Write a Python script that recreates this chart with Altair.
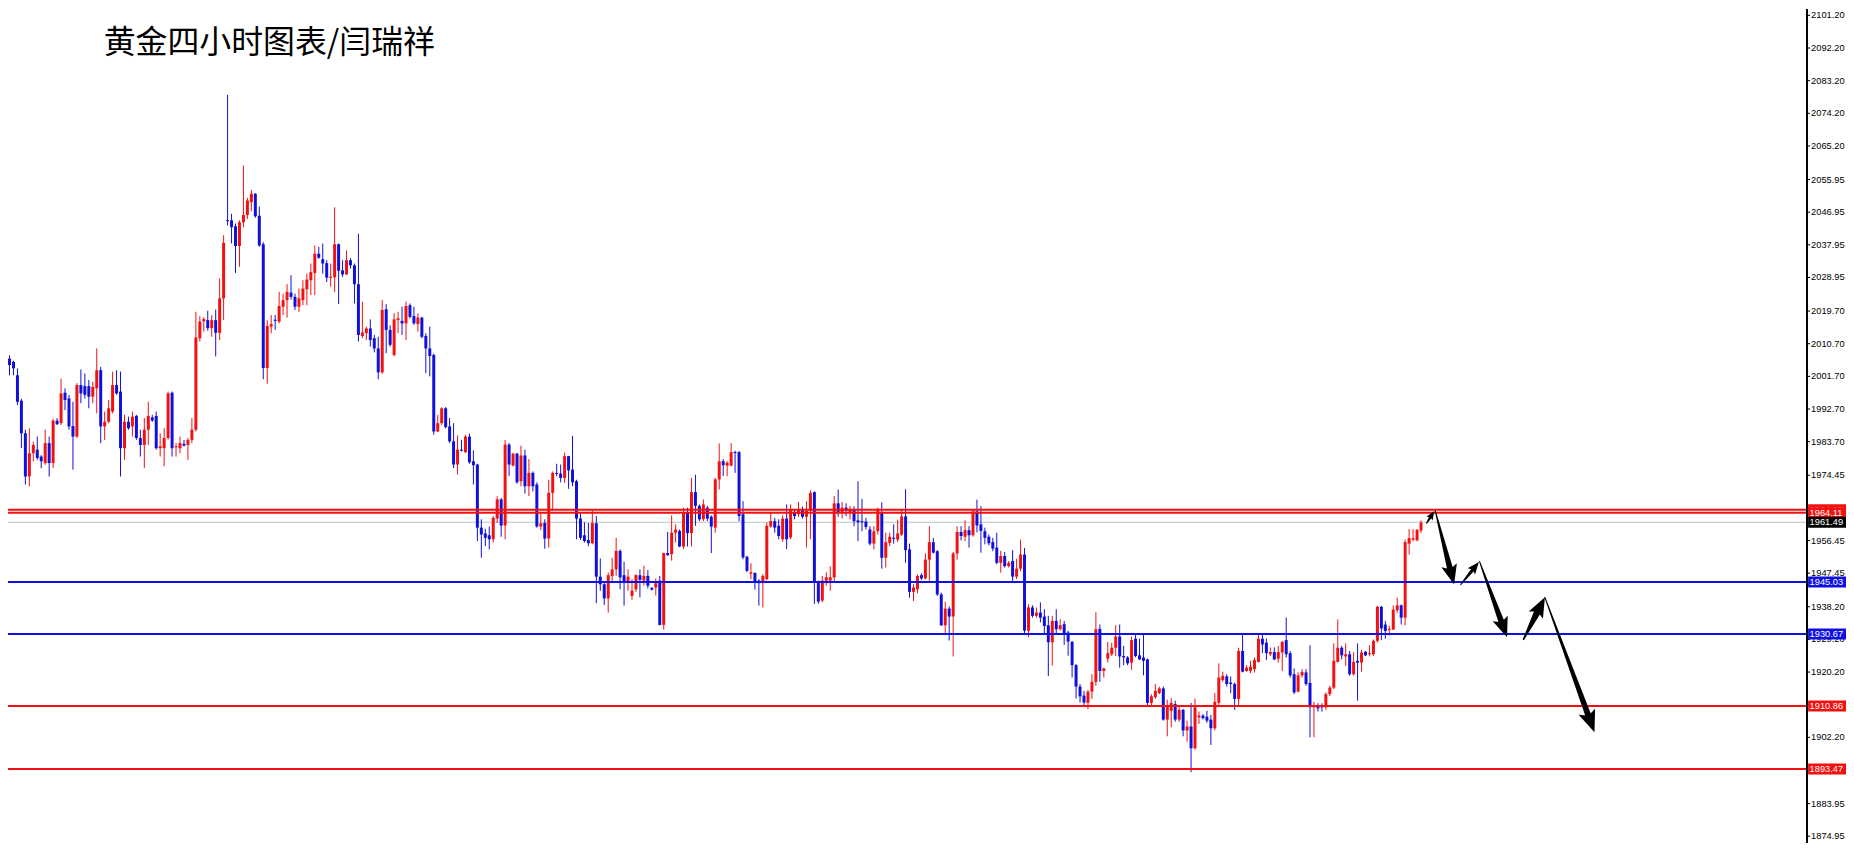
import math
import altair as alt
import pandas as pd

TITLE = "黄金四小时图表/闫瑞祥"

OPEN = [
    2005.3, 2006.6, 2005.7, 2002.0, 1995.0, 1986.0, 1974.1, 1980.5, 1981.5, 1979.6,
    1977.8, 1983.3, 1977.8, 1989.5, 1988.8, 1997.2, 1995.6, 1988.0, 1985.1, 1999.3,
    1999.0, 1999.0, 1996.1, 1998.4, 2003.4, 1987.9, 1989.2, 1992.0, 1999.3, 1997.5,
    1981.9, 1989.2, 1987.9, 1990.8, 1984.7, 1982.8, 1987.0, 1990.4, 1990.8, 1981.9,
    1981.9, 1984.7, 1997.2, 1982.2, 1981.9, 1983.1, 1982.8, 1984.2, 1987.0, 2012.2,
    2016.9, 2017.2, 2015.0, 2017.2, 2013.7, 2023.2, 2044.7, 2044.7, 2043.1, 2037.6,
    2044.2, 2046.2, 2049.7, 2052.0, 2046.0, 2038.1, 2004.0, 2015.4, 2017.3, 2016.8,
    2020.9, 2022.7, 2024.8, 2023.6, 2020.9, 2022.7, 2025.7, 2028.2, 2030.2, 2035.5,
    2034.0, 2032.9, 2028.9, 2029.0, 2038.1, 2030.9, 2029.8, 2033.7, 2032.3, 2027.1,
    2012.8, 2013.6, 2014.9, 2012.2, 2009.4, 2002.8, 2020.2, 2014.5, 2007.6, 2017.2,
    2017.0, 2016.3, 2021.3, 2018.3, 2016.1, 2017.9, 2012.8, 2009.4, 2007.6, 1986.5,
    1988.8, 1992.9, 1987.9, 1983.8, 1977.4, 1981.5, 1980.8, 1985.1, 1978.3, 1977.4,
    1960.0, 1958.4, 1957.9, 1956.8, 1962.5, 1967.8, 1960.6, 1982.9, 1977.1, 1980.4,
    1972.8, 1979.9, 1971.4, 1975.1, 1971.9, 1960.3, 1961.3, 1957.0, 1969.6, 1975.1,
    1974.9, 1973.7, 1979.7, 1976.0, 1972.8, 1962.5, 1957.9, 1956.6, 1955.7, 1961.2,
    1946.5, 1944.4, 1940.5, 1946.7, 1948.5, 1953.6, 1946.9, 1945.3, 1941.2, 1943.0,
    1946.9, 1945.4, 1946.7, 1943.4, 1943.5, 1945.4, 1933.2, 1953.0, 1952.7, 1958.6,
    1959.1, 1954.8, 1964.1, 1958.5, 1969.8, 1966.0, 1962.3, 1965.5, 1963.0, 1960.0,
    1973.3, 1978.3, 1977.1, 1977.1, 1980.8, 1980.8, 1963.7, 1952.0, 1947.3, 1947.5,
    1945.4, 1944.7, 1945.8, 1960.3, 1961.8, 1960.5, 1956.8, 1962.5, 1957.3, 1964.1,
    1963.7, 1965.0, 1963.0, 1964.6, 1969.8, 1945.0, 1939.9, 1945.4, 1945.4, 1946.3,
    1966.7, 1964.1, 1965.5, 1964.3, 1965.0, 1962.0, 1961.8, 1961.7, 1959.5, 1955.6,
    1959.0, 1964.3, 1951.7, 1955.8, 1957.2, 1956.7, 1958.1, 1963.1, 1954.0, 1942.3,
    1943.0, 1946.9, 1946.0, 1951.2, 1956.0, 1953.5, 1941.6, 1933.1, 1937.7, 1935.5,
    1952.9, 1958.8, 1957.5, 1959.3, 1957.9, 1964.5, 1960.9, 1959.0, 1957.5, 1956.0,
    1954.5, 1950.3, 1952.2, 1949.4, 1950.8, 1946.5, 1948.7, 1952.6, 1931.6, 1938.0,
    1935.7, 1936.6, 1935.5, 1933.1, 1928.4, 1934.3, 1932.0, 1933.4, 1931.1, 1928.5,
    1922.1, 1916.2, 1913.7, 1911.7, 1914.8, 1917.5, 1932.1, 1920.5, 1923.9, 1925.1,
    1926.9, 1930.0, 1924.6, 1924.2, 1922.8, 1929.4, 1924.8, 1924.2, 1923.7, 1911.7,
    1913.3, 1914.4, 1915.7, 1907.1, 1909.5, 1911.4, 1907.1, 1909.8, 1904.1, 1905.2,
    1899.2, 1907.7, 1908.2, 1907.9, 1907.1, 1904.7, 1911.7, 1918.0, 1919.0, 1917.3,
    1916.9, 1912.8, 1926.0, 1920.5, 1920.5, 1921.0, 1923.0, 1929.4, 1928.3, 1925.1,
    1925.7, 1923.9, 1925.6, 1929.0, 1925.4, 1919.6, 1914.8, 1919.3, 1920.1, 1917.2,
    1910.5, 1910.9, 1910.9, 1910.5, 1914.1, 1915.9, 1923.0, 1926.9, 1924.5, 1925.1,
    1919.6, 1923.3, 1922.8, 1925.8, 1925.1, 1925.1, 1928.8, 1938.2, 1933.3, 1931.8,
    1931.9, 1937.2, 1938.6, 1935.2, 1955.6, 1956.7, 1956.5, 1959.2,
]

HIGH = [
    2011.0, 2007.5, 2006.0, 2003.9, 1995.5, 1987.0, 1987.4, 1983.7, 1985.1, 1980.0,
    1987.0, 1985.1, 1990.0, 1990.2, 2001.1, 1998.4, 1996.6, 1994.7, 1999.8, 2003.6,
    2002.5, 2000.7, 2000.2, 2009.4, 2004.3, 1992.0, 1995.2, 2003.0, 2003.4, 2003.0,
    1991.1, 1990.6, 1992.0, 1991.1, 1987.0, 1990.2, 1994.7, 1991.1, 1992.0, 1986.0,
    1987.4, 1997.5, 1997.5, 1983.3, 1985.1, 1984.2, 1984.7, 1990.2, 2019.5, 2018.3,
    2018.0, 2019.8, 2018.6, 2020.1, 2028.7, 2040.6, 2079.3, 2046.5, 2043.8, 2044.7,
    2059.8, 2050.9, 2053.1, 2052.2, 2048.5, 2038.7, 2017.2, 2018.6, 2018.6, 2025.0,
    2024.5, 2027.1, 2029.6, 2024.5, 2025.9, 2028.2, 2030.0, 2032.8, 2037.8, 2037.4,
    2038.3, 2033.7, 2032.8, 2048.3, 2038.3, 2033.7, 2036.4, 2034.3, 2032.8, 2041.0,
    2022.3, 2015.4, 2017.4, 2013.1, 2012.6, 2022.7, 2021.6, 2015.8, 2019.1, 2019.5,
    2020.9, 2022.3, 2021.8, 2020.9, 2019.1, 2018.1, 2013.6, 2015.4, 2008.0, 1991.1,
    1993.2, 1993.2, 1990.2, 1988.8, 1985.4, 1984.2, 1985.6, 1985.9, 1981.3, 1977.6,
    1962.3, 1959.7, 1960.3, 1963.2, 1968.7, 1968.2, 1984.2, 1983.3, 1980.6, 1980.6,
    1982.6, 1981.5, 1978.9, 1975.5, 1972.5, 1963.9, 1962.3, 1973.2, 1975.5, 1977.6,
    1977.4, 1980.7, 1979.8, 1985.3, 1973.2, 1963.9, 1961.5, 1961.3, 1965.0, 1963.2,
    1951.5, 1944.9, 1947.6, 1951.7, 1957.2, 1954.0, 1950.6, 1948.5, 1945.9, 1947.2,
    1948.5, 1949.5, 1948.3, 1943.6, 1946.0, 1946.7, 1953.1, 1958.8, 1963.4, 1960.9,
    1959.5, 1965.5, 1965.5, 1973.7, 1974.6, 1966.4, 1967.8, 1966.0, 1963.4, 1973.7,
    1983.2, 1978.9, 1978.3, 1983.3, 1981.2, 1981.1, 1967.3, 1952.2, 1950.2, 1947.7,
    1945.8, 1947.2, 1961.4, 1964.3, 1962.7, 1962.3, 1963.4, 1966.4, 1966.4, 1965.0,
    1967.1, 1965.8, 1967.3, 1970.3, 1970.0, 1945.4, 1946.7, 1947.7, 1949.3, 1968.7,
    1970.5, 1967.1, 1966.7, 1966.0, 1965.9, 1972.8, 1967.9, 1962.7, 1960.4, 1960.4,
    1965.5, 1967.0, 1958.6, 1958.6, 1960.9, 1962.2, 1964.8, 1970.6, 1955.6, 1944.4,
    1947.1, 1947.4, 1952.9, 1960.4, 1957.2, 1953.8, 1942.1, 1939.6, 1938.3, 1953.3,
    1960.4, 1960.4, 1962.0, 1960.4, 1965.0, 1967.7, 1965.9, 1960.0, 1958.1, 1957.2,
    1958.6, 1953.6, 1953.3, 1950.8, 1953.8, 1951.4, 1956.7, 1954.4, 1938.9, 1938.6,
    1938.0, 1939.4, 1937.5, 1935.7, 1935.7, 1937.5, 1934.8, 1934.3, 1931.6, 1928.8,
    1922.4, 1916.9, 1915.0, 1915.3, 1919.6, 1936.7, 1933.3, 1921.4, 1928.5, 1928.3,
    1933.1, 1933.3, 1927.4, 1924.6, 1930.0, 1930.9, 1929.4, 1930.8, 1923.9, 1914.1,
    1916.9, 1916.2, 1916.2, 1912.6, 1913.0, 1912.3, 1911.1, 1910.0, 1906.8, 1911.7,
    1912.9, 1909.3, 1908.6, 1909.5, 1908.4, 1914.4, 1922.6, 1920.3, 1919.6, 1919.0,
    1917.3, 1926.9, 1930.6, 1922.1, 1923.3, 1924.2, 1930.6, 1930.6, 1929.4, 1927.0,
    1927.0, 1927.4, 1928.8, 1935.2, 1926.0, 1921.2, 1920.1, 1921.0, 1921.0, 1927.6,
    1912.0, 1911.6, 1911.6, 1914.6, 1916.4, 1928.1, 1934.7, 1927.4, 1928.1, 1926.0,
    1925.7, 1928.1, 1926.3, 1926.0, 1927.6, 1929.2, 1938.4, 1938.4, 1934.3, 1933.0,
    1938.6, 1940.7, 1938.8, 1956.7, 1959.6, 1959.6, 1959.6, 1962.0,
]

LOW = [
    1999.3, 2002.0, 2002.0, 1993.8, 1981.9, 1971.9, 1971.4, 1978.3, 1978.7, 1976.4,
    1977.3, 1974.1, 1976.4, 1988.3, 1988.3, 1992.4, 1987.0, 1976.0, 1984.7, 1994.3,
    1995.6, 1992.9, 1994.3, 1991.5, 1983.3, 1984.2, 1988.8, 1991.5, 1996.6, 1974.1,
    1978.7, 1987.0, 1985.1, 1984.2, 1979.6, 1976.4, 1982.8, 1989.2, 1981.5, 1979.6,
    1976.9, 1984.2, 1979.6, 1979.6, 1980.5, 1982.4, 1978.7, 1983.3, 1986.5, 2011.3,
    2014.0, 2014.3, 2012.6, 2007.2, 2011.7, 2017.2, 2043.3, 2038.3, 2030.2, 2031.9,
    2042.8, 2045.1, 2047.2, 2045.4, 2037.4, 2000.9, 1999.7, 2013.6, 2014.5, 2016.3,
    2018.6, 2017.9, 2022.9, 2020.0, 2019.5, 2021.3, 2021.3, 2024.1, 2024.1, 2034.1,
    2030.0, 2027.7, 2026.4, 2025.0, 2021.6, 2029.1, 2029.6, 2031.4, 2021.8, 2011.3,
    2012.2, 2011.7, 2009.9, 2008.3, 2000.9, 2002.4, 2008.1, 2009.9, 2007.2, 2013.6,
    2013.1, 2011.7, 2017.7, 2015.9, 2014.0, 2012.2, 2002.6, 2001.7, 1985.6, 1986.3,
    1988.3, 1987.4, 1983.3, 1976.4, 1974.6, 1981.0, 1980.6, 1977.6, 1971.9, 1956.3,
    1951.7, 1954.9, 1954.0, 1955.9, 1961.3, 1957.5, 1956.8, 1974.2, 1976.9, 1972.1,
    1971.4, 1969.4, 1968.7, 1970.0, 1960.0, 1959.3, 1954.2, 1954.5, 1964.6, 1974.2,
    1972.5, 1972.3, 1970.7, 1971.4, 1956.8, 1956.6, 1955.9, 1954.9, 1955.4, 1939.2,
    1942.6, 1938.7, 1936.6, 1945.3, 1946.7, 1943.0, 1938.5, 1942.6, 1940.1, 1942.3,
    1940.8, 1944.0, 1943.3, 1942.7, 1941.3, 1933.0, 1931.9, 1952.2, 1950.9, 1955.9,
    1954.6, 1954.1, 1954.8, 1954.8, 1960.5, 1961.8, 1961.8, 1961.8, 1953.0, 1958.6,
    1970.5, 1974.2, 1974.2, 1976.9, 1975.1, 1961.8, 1951.3, 1947.7, 1945.8, 1942.9,
    1938.5, 1938.0, 1945.5, 1960.0, 1958.6, 1956.8, 1956.1, 1954.1, 1956.8, 1962.3,
    1963.0, 1962.5, 1954.5, 1956.8, 1939.0, 1939.0, 1939.4, 1944.0, 1942.6, 1944.9,
    1963.0, 1962.5, 1963.2, 1962.3, 1960.4, 1956.3, 1959.0, 1959.5, 1955.1, 1954.0,
    1958.1, 1948.7, 1949.0, 1954.9, 1955.6, 1956.0, 1957.7, 1950.3, 1940.7, 1939.8,
    1941.9, 1945.6, 1945.8, 1945.3, 1952.9, 1941.2, 1932.9, 1930.9, 1928.9, 1924.5,
    1951.2, 1956.5, 1956.3, 1954.5, 1957.5, 1958.7, 1953.1, 1955.4, 1955.1, 1953.5,
    1949.9, 1947.6, 1949.0, 1949.0, 1945.3, 1945.8, 1948.0, 1930.9, 1929.8, 1935.2,
    1935.2, 1933.9, 1930.9, 1919.1, 1922.0, 1930.7, 1931.6, 1927.7, 1924.7, 1918.7,
    1912.9, 1911.8, 1911.1, 1910.0, 1912.8, 1916.4, 1917.5, 1918.7, 1922.8, 1924.6,
    1924.6, 1921.4, 1922.1, 1922.1, 1920.8, 1924.3, 1923.5, 1919.3, 1911.1, 1911.1,
    1912.8, 1914.1, 1906.8, 1902.5, 1905.0, 1906.5, 1906.5, 1902.5, 1901.0, 1892.6,
    1898.8, 1905.9, 1907.1, 1906.2, 1900.1, 1904.1, 1911.1, 1917.5, 1916.2, 1914.4,
    1909.8, 1910.9, 1920.1, 1920.3, 1919.9, 1920.1, 1922.8, 1925.4, 1923.5, 1924.6,
    1923.5, 1922.8, 1920.5, 1924.2, 1918.7, 1914.1, 1914.6, 1918.7, 1916.4, 1902.2,
    1902.2, 1909.3, 1909.3, 1909.8, 1913.6, 1915.5, 1922.8, 1923.7, 1921.9, 1919.2,
    1919.2, 1912.3, 1920.3, 1924.6, 1924.5, 1924.6, 1928.3, 1929.0, 1929.4, 1930.3,
    1931.8, 1936.5, 1933.3, 1933.1, 1952.6, 1956.2, 1956.2, 1958.5,
]

CLOSE = [
    2010.0, 2004.8, 2003.9, 1994.7, 1986.0, 1974.1, 1980.5, 1982.8, 1979.2, 1978.3,
    1983.3, 1977.8, 1989.5, 1988.5, 1997.0, 1995.2, 1987.9, 1985.1, 1999.3, 1997.0,
    1996.6, 1996.1, 1998.8, 2003.4, 1987.9, 1989.2, 1992.9, 1999.3, 1997.0, 1981.9,
    1989.2, 1987.4, 1990.6, 1984.7, 1982.8, 1987.0, 1990.8, 1989.5, 1981.9, 1982.4,
    1984.7, 1997.0, 1981.9, 1982.4, 1983.3, 1982.6, 1984.2, 1987.0, 2012.4, 2016.8,
    2017.5, 2015.0, 2017.2, 2013.7, 2023.2, 2038.5, 2044.5, 2042.8, 2037.6, 2044.2,
    2046.2, 2050.2, 2052.0, 2045.8, 2037.8, 2004.0, 2015.6, 2016.1, 2017.0, 2021.1,
    2022.7, 2025.0, 2023.6, 2020.9, 2023.2, 2025.9, 2028.4, 2030.4, 2035.5, 2034.4,
    2032.8, 2028.9, 2029.1, 2038.1, 2030.8, 2029.8, 2033.7, 2032.3, 2027.1, 2013.1,
    2013.8, 2014.9, 2011.7, 2009.4, 2002.8, 2020.0, 2014.5, 2010.4, 2017.4, 2017.7,
    2016.3, 2021.1, 2018.1, 2016.3, 2017.9, 2012.6, 2009.4, 2007.3, 1986.5, 1988.8,
    1992.9, 1987.7, 1983.8, 1977.4, 1981.5, 1981.2, 1985.1, 1978.0, 1977.2, 1960.0,
    1958.1, 1957.2, 1956.8, 1962.7, 1967.8, 1960.6, 1982.9, 1977.4, 1980.4, 1972.5,
    1979.9, 1971.4, 1975.1, 1971.4, 1960.3, 1961.2, 1957.0, 1969.6, 1975.1, 1974.8,
    1973.7, 1979.7, 1975.8, 1972.5, 1962.5, 1957.2, 1956.3, 1955.7, 1961.3, 1946.5,
    1944.4, 1940.5, 1946.9, 1948.5, 1953.6, 1946.3, 1944.9, 1946.5, 1942.6, 1946.9,
    1945.6, 1946.7, 1944.0, 1942.9, 1944.7, 1933.2, 1953.0, 1952.4, 1958.6, 1959.5,
    1954.8, 1964.1, 1958.5, 1969.8, 1966.0, 1962.3, 1966.4, 1962.5, 1960.3, 1973.3,
    1978.3, 1977.2, 1977.9, 1980.8, 1980.6, 1963.2, 1951.8, 1948.1, 1947.7, 1945.1,
    1944.7, 1946.7, 1960.5, 1961.8, 1960.0, 1957.7, 1962.5, 1956.8, 1965.0, 1963.2,
    1965.0, 1963.0, 1964.6, 1969.6, 1945.0, 1939.6, 1945.4, 1946.3, 1946.3, 1966.7,
    1964.1, 1965.5, 1964.6, 1965.0, 1961.8, 1961.5, 1961.5, 1960.2, 1955.6, 1959.0,
    1965.2, 1951.7, 1956.0, 1957.5, 1956.9, 1958.4, 1963.1, 1953.8, 1942.3, 1943.5,
    1946.7, 1946.0, 1951.2, 1956.0, 1953.1, 1941.6, 1933.1, 1937.7, 1935.5, 1952.9,
    1958.8, 1957.7, 1959.3, 1957.9, 1964.5, 1960.6, 1959.1, 1957.2, 1955.7, 1954.2,
    1950.3, 1952.2, 1949.4, 1950.3, 1946.5, 1948.7, 1952.6, 1931.6, 1938.0, 1935.7,
    1936.6, 1935.2, 1932.9, 1928.4, 1934.3, 1932.0, 1933.1, 1930.7, 1928.6, 1922.1,
    1916.2, 1913.5, 1911.8, 1914.8, 1917.5, 1932.0, 1920.5, 1921.2, 1925.4, 1926.9,
    1930.0, 1924.5, 1924.2, 1922.6, 1929.0, 1924.6, 1923.7, 1923.3, 1911.7, 1913.5,
    1915.0, 1915.7, 1907.1, 1911.1, 1911.7, 1907.1, 1909.8, 1904.1, 1905.2, 1899.2,
    1910.5, 1908.2, 1907.5, 1906.8, 1904.7, 1912.0, 1918.7, 1919.2, 1916.9, 1916.9,
    1912.8, 1926.0, 1920.3, 1921.4, 1921.7, 1923.5, 1929.4, 1927.8, 1925.4, 1925.7,
    1923.7, 1925.7, 1928.5, 1925.1, 1919.3, 1914.6, 1919.3, 1920.2, 1916.9, 1910.5,
    1910.9, 1910.2, 1910.5, 1914.1, 1915.9, 1923.3, 1926.9, 1924.8, 1925.1, 1919.6,
    1923.0, 1922.8, 1925.6, 1924.8, 1925.4, 1928.8, 1938.2, 1932.2, 1931.5, 1932.1,
    1937.4, 1938.6, 1935.2, 1956.0, 1957.1, 1957.1, 1959.4, 1961.4,
]

Y_TICKS = [
    2101.20, 2092.20, 2083.20, 2074.20, 2065.20, 2055.95, 2046.95, 2037.95, 2028.95,
    2019.70, 2010.70, 2001.70, 1992.70, 1983.70, 1974.45, 1965.45, 1956.45, 1947.45,
    1938.20, 1929.20, 1920.20, 1911.20, 1902.20, 1893.20, 1883.95, 1874.95,
]

LEVEL_PRICE = [1964.95, 1964.11, 1945.03, 1930.67, 1910.86, 1893.47]
LEVEL_KIND = ["red", "red", "blue", "blue", "red", "red"]
CURRENT_PRICE = 1961.49

ARROW_FROM_BAR = [359.4, 361.6, 368.0, 372.75, 383.85, 389.25]
ARROW_FROM_PRICE = [1961.2, 1964.6, 1944.3, 1950.7, 1929.2, 1940.8]
ARROW_TO_BAR = [361.35, 366.35, 372.6, 379.7, 389.25, 401.75]
ARROW_TO_PRICE = [1964.6, 1944.3, 1950.5, 1929.8, 1940.8, 1903.6]

# ---------------- styles / layout ----------------
CANDLE_RED = "#f01212"
CANDLE_BLUE = "#1010d8"
LINE_COLORS = {"red": "#f21010", "blue": "#1010e4"}
GREY_LINE = "#b9c3c6"
FONT = "Liberation Sans"

HEAD_LEN = [9, 20, 12, 20, 20, 22]
SHAFT_W0 = [1.0, 1.0, 1.0, 1.0, 1.5, 1.0]
SHAFT_W1 = [3.0, 6.0, 3.5, 6.0, 7.0, 6.0]

# plot area starts at page (8, 8) because of the page margin
W, H = 1804, 836
RIGHT_ROOM = 40
BAR_PX = 4.0
PAGE_OFF = 8
XMIN = 1 + (PAGE_OFF - 0.5) / BAR_PX
XMAX = XMIN + W / BAR_PX
PPP = 3.64
YMAX = 2105.05 - PAGE_OFF / PPP
YMIN = YMAX - H / PPP

xs = alt.Scale(domain=[XMIN, XMAX], nice=False, zero=False)
ys = alt.Scale(domain=[YMIN, YMAX], nice=False, zero=False)

# ---------------- candles ----------------
n = min(len(OPEN), len(HIGH), len(LOW), len(CLOSE))
rows = []
for i in range(n):
    o, h, l, c = OPEN[i], HIGH[i], LOW[i], CLOSE[i]
    top, bot = max(o, c), min(o, c)
    if top - bot < 0.3:
        m = (top + bot) / 2
        top, bot = m + 0.15, m - 0.15
    rows.append(dict(bar=i + 1, hi=max(h, top), lo=min(l, bot), top=top, bot=bot,
                     col=CANDLE_RED if c >= o else CANDLE_BLUE))
candles = pd.DataFrame(rows)

wicks = alt.Chart(candles).mark_rule(strokeWidth=1, clip=True).encode(
    x=alt.X("bar:Q", scale=xs, axis=None),
    y=alt.Y("lo:Q", scale=ys, axis=None),
    y2="hi:Q",
    color=alt.Color("col:N", scale=None),
)
bodies = alt.Chart(candles).mark_bar(size=3, clip=True).encode(
    x=alt.X("bar:Q", scale=xs, axis=None),
    y=alt.Y("bot:Q", scale=ys, axis=None),
    y2="top:Q",
    color=alt.Color("col:N", scale=None),
)

# ---------------- price axis on the right (drawn from the tick list) ----------------
ticks = pd.DataFrame({"v": Y_TICKS, "label": [f"{v:.2f}" for v in Y_TICKS]})
axis_line = alt.Chart(ticks).mark_rule(color="black", strokeWidth=1).encode(
    x=alt.value(W + 0.5), y=alt.value(0), y2=alt.value(H))
axis_ticks = alt.Chart(ticks).mark_rule(color="black", strokeWidth=1, clip=False).encode(
    x=alt.value(W + 0.5), x2=alt.value(W + 4),
    y=alt.Y("v:Q", scale=ys, axis=None))
axis_labels = alt.Chart(ticks).mark_text(
    align="left", baseline="middle", font=FONT, fontSize=9.3, color="black", clip=False
).encode(x=alt.value(W + 5), y=alt.Y("v:Q", scale=ys, axis=None), text="label:N")

# ---------------- horizontal levels ----------------
levels = pd.DataFrame({
    "price": LEVEL_PRICE,
    "col": [LINE_COLORS[k] for k in LEVEL_KIND],
    "label": [f"{p:.2f}" for p in LEVEL_PRICE],
})
cur = pd.DataFrame({"price": [CURRENT_PRICE], "col": ["#000000"],
                    "label": [f"{CURRENT_PRICE:.2f}"]})

grey_line = alt.Chart(cur).mark_rule(strokeWidth=1, color=GREY_LINE, clip=True).encode(
    y=alt.Y("price:Q", scale=ys, axis=None))
level_lines = alt.Chart(levels).mark_rule(strokeWidth=2, clip=True).encode(
    y=alt.Y("price:Q", scale=ys, axis=None),
    color=alt.Color("col:N", scale=None))

BOX_PATH = "M-1,-0.29 L1,-0.29 L1,0.29 L-1,0.29 Z"
BOX_W = 38


def price_label(df):
    box = alt.Chart(df).mark_point(shape=BOX_PATH, size=BOX_W * BOX_W, filled=True,
                                   opacity=1, strokeWidth=0, clip=False).encode(
        x=alt.value(W + 2 + BOX_W / 2),
        y=alt.Y("price:Q", scale=ys, axis=None),
        color=alt.Color("col:N", scale=None))
    txt = alt.Chart(df).mark_text(align="left", baseline="middle", font=FONT,
                                  fontSize=9.3, color="white", clip=False).encode(
        x=alt.value(W + 3.5),
        y=alt.Y("price:Q", scale=ys, axis=None),
        text="label:N")
    return [box, txt]


label_layers = []
label_layers += price_label(levels.iloc[[0]])
label_layers += price_label(levels.iloc[1:])
label_layers += price_label(cur)

# ---------------- arrows ----------------
trail_rows, head_rows = [], []
for k in range(len(ARROW_FROM_BAR)):
    b0, p0 = ARROW_FROM_BAR[k], ARROW_FROM_PRICE[k]
    b1, p1 = ARROW_TO_BAR[k], ARROW_TO_PRICE[k]
    dx = (b1 - b0) * BAR_PX
    dy = -(p1 - p0) * PPP
    L = math.hypot(dx, dy)
    ux, uy = dx / L, dy / L
    hl = HEAD_LEN[k]
    back = 0.8 * hl
    bb = b1 - back * ux / BAR_PX
    pb = p1 + back * uy / PPP
    trail_rows.append(dict(a=k, o=0, bar=b0, price=p0, w=SHAFT_W0[k]))
    trail_rows.append(dict(a=k, o=1, bar=bb, price=pb, w=SHAFT_W1[k]))
    ang = math.degrees(math.atan2(dx, -dy)) % 360
    head_rows.append(dict(bar=b1, price=p1, ang=ang, s=hl * hl))

trail = alt.Chart(pd.DataFrame(trail_rows)).mark_trail(color="black", clip=True).encode(
    x=alt.X("bar:Q", scale=xs, axis=None),
    y=alt.Y("price:Q", scale=ys, axis=None),
    size=alt.Size("w:Q", scale=None, legend=None),
    detail="a:N",
    order="o:Q",
)
HEAD_PATH = "M0,0 L0.8,2 L0,1.6 L-0.8,2 Z"
heads = alt.Chart(pd.DataFrame(head_rows)).mark_point(
    shape=HEAD_PATH, filled=True, opacity=1, color="black", strokeWidth=0, clip=True
).encode(
    x=alt.X("bar:Q", scale=xs, axis=None),
    y=alt.Y("price:Q", scale=ys, axis=None),
    size=alt.Size("s:Q", scale=None, legend=None),
    angle=alt.Angle("ang:Q", scale=None),
)

# ---------------- title ----------------
title = alt.Chart(pd.DataFrame({"t": [TITLE]})).mark_text(
    align="left", baseline="middle", font="Noto Sans CJK SC", fontSize=32,
    color="black", fontWeight="normal"
).encode(x=alt.value(104 - PAGE_OFF), y=alt.value(42 - PAGE_OFF), text="t:N")

chart = alt.layer(
    grey_line, wicks, bodies, level_lines, trail, heads, title,
    axis_line, axis_ticks, axis_labels, *label_layers
).properties(
    width=W, height=H,
    padding={"left": 0, "top": 0, "right": RIGHT_ROOM, "bottom": 0},
    autosize=alt.AutoSizeParams(type="none"),
    background="white",
).configure_view(stroke=None)

chart.save("out.html", embed_options={"renderer": "svg", "actions": False})
